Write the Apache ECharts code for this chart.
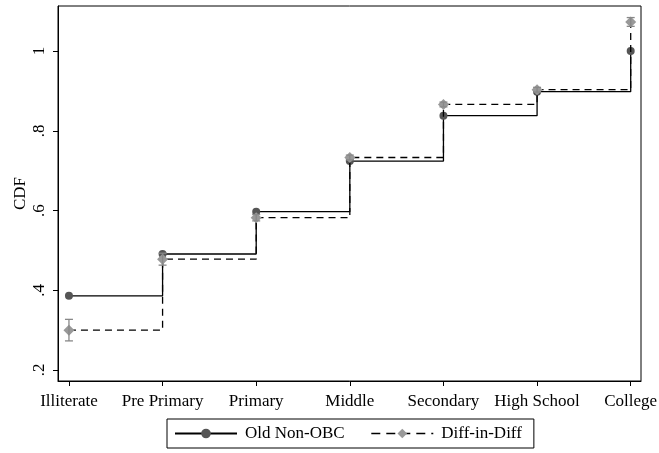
<!DOCTYPE html>
<html>
<head>
<meta charset="utf-8">
<script src="https://cdn.jsdelivr.net/npm/echarts@6/dist/echarts.min.js"></script>
<style>
  html, body { margin: 0; padding: 0; background: #fff; }
  #chart { width: 659px; height: 453px; }
</style>
</head>
<body>
<div id="chart"></div>
<script>
const categories = ['Illiterate', 'Pre Primary', 'Primary', 'Middle', 'Secondary', 'High School', 'College']
const oldNonObc = [0.386, 0.491, 0.597, 0.724, 0.838, 0.898, 1.0]
const diffInDiff = [0.300, 0.478, 0.582, 0.733, 0.866, 0.903, 1.073]
const ciLow = [0.273, 0.463, 0.574, 0.727, 0.860, 0.897, 1.062]
const ciHigh = [0.327, 0.493, 0.590, 0.739, 0.872, 0.909, 1.084]
const yTicks = [0.2, 0.4, 0.6, 0.8, 1]
const yTickLabels = ['.2', '.4', '.6', '.8', '1']

const font = 'Liberation Serif'
const xIdx = categories.map((c, i) => i)

let myChart = echarts.init(document.getElementById('chart'))
const option = {
  animation: false,
  textStyle: { fontFamily: font },
  grid: { left: 58, right: 18, top: 6, bottom: 72, outerBoundsMode: 'none', containLabel: false },
  xAxis: {
    type: 'value',
    min: -0.117,
    max: 6.11,
    splitLine: { show: false },
    axisLine: { show: true, onZero: false, lineStyle: { color: '#000', width: 1 } },
    axisTick: { show: true, length: 5, customValues: xIdx, lineStyle: { color: '#000' } },
    axisLabel: {
      customValues: xIdx,
      formatter: v => categories[Math.round(v)],
      color: '#000',
      fontFamily: font,
      fontSize: 17,
      margin: 12,
    },
  },
  yAxis: {
    type: 'value',
    min: 0.1724,
    max: 1.113,
    name: 'CDF',
    nameLocation: 'middle',
    nameGap: 29,
    nameMoveOverlap: false,
    nameTextStyle: { color: '#000', fontFamily: font, fontSize: 17 },
    splitLine: { show: false },
    axisLine: { show: true, onZero: false, lineStyle: { color: '#000', width: 1 } },
    axisTick: { show: true, length: 5, customValues: yTicks, lineStyle: { color: '#000' } },
    axisLabel: {
      customValues: yTicks,
      formatter: v => yTickLabels[yTicks.findIndex(t => Math.abs(t - v) < 1e-6)],
      rotate: 90,
      color: '#000',
      fontFamily: font,
      fontSize: 17,
      margin: 10,
    },
  },
  legend: {
    left: 167,
    top: 419,
    itemWidth: 62,
    itemHeight: 12,
    itemGap: 26,
    padding: [6, 12, 6, 7],
    borderColor: '#000',
    borderWidth: 1,
    textStyle: { color: '#000', fontFamily: font, fontSize: 17, padding: [0, 0, 0, 3] },
    data: [
      { name: 'Old Non-OBC' },
      { name: 'Diff-in-Diff', lineStyle: { type: [9, 6], width: 1.3 } },
    ],
  },
  series: [
    {
      name: 'Old Non-OBC',
      type: 'line',
      step: 'end',
      data: xIdx.map(i => [i, oldNonObc[i]]),
      symbol: 'circle',
      symbolSize: 8,
      z: 3,
      lineStyle: { color: '#000', width: 1.3, type: 'solid' },
      itemStyle: { color: '#555' },
    },
    {
      name: 'Diff-in-Diff',
      type: 'line',
      step: 'end',
      data: xIdx.map(i => [i, diffInDiff[i]]),
      symbol: 'diamond',
      symbolSize: 11,
      z: 4,
      lineStyle: { color: '#000', width: 1.3, type: [7, 5] },
      itemStyle: { color: '#999' },
    },
    {
      type: 'custom',
      z: 5,
      data: xIdx.map(i => [i, ciLow[i], ciHigh[i]]),
      renderItem: (params, api) => {
        const lo = api.coord([api.value(0), api.value(1)])
        const hi = api.coord([api.value(0), api.value(2)])
        const w = 4
        const style = { stroke: '#888', lineWidth: 1.3 }
        return {
          type: 'group',
          children: [
            { type: 'line', shape: { x1: lo[0], y1: lo[1], x2: hi[0], y2: hi[1] }, style },
            { type: 'line', shape: { x1: lo[0] - w, y1: lo[1], x2: lo[0] + w, y2: lo[1] }, style },
            { type: 'line', shape: { x1: hi[0] - w, y1: hi[1], x2: hi[0] + w, y2: hi[1] }, style },
          ],
        }
      },
    },
  ],
}
myChart.setOption(option)
// 画出上边和右边的框线
const rect = myChart.getModel().getComponent('grid').coordinateSystem.getRect()
myChart.setOption({
  graphic: [{
    type: 'rect',
    shape: { x: rect.x, y: rect.y, width: rect.width, height: rect.height },
    style: { fill: 'none', stroke: '#000', lineWidth: 1 },
    silent: true,
    z: 10,
  }],
})
</script>
</body>
</html>
